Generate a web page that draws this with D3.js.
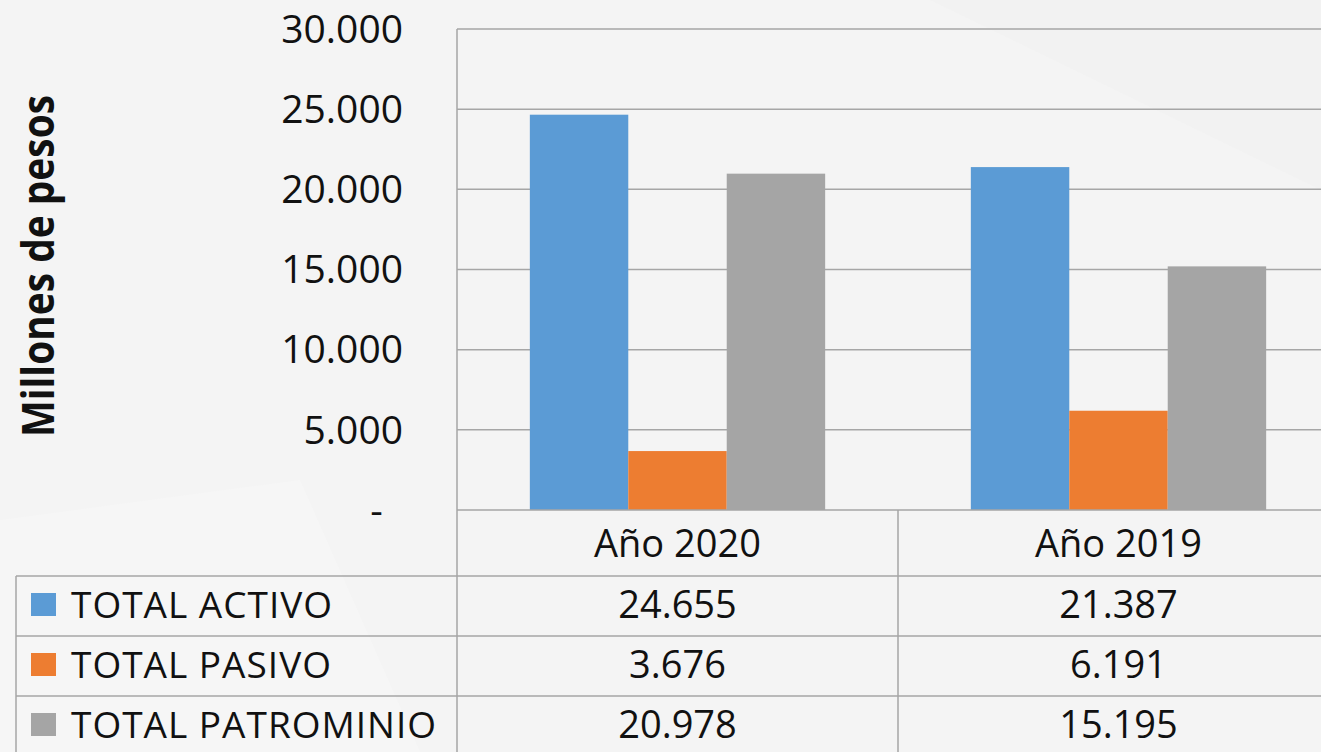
<!DOCTYPE html>
<html><head><meta charset="utf-8">
<script src="https://cdn.jsdelivr.net/npm/d3@7"></script>
<style>
html,body{margin:0;padding:0;background:#f4f4f4;}
svg{display:block;}
text{font-family:"Open Sans",sans-serif;fill:#111;}
</style></head>
<body>
<svg id="c" width="1321" height="752"></svg>
<script>
const categories = ["Año 2020", "Año 2019"];
const seriesNames = ["TOTAL ACTIVO", "TOTAL PASIVO", "TOTAL PATROMINIO"];
const activo = [24655, 21387];
const pasivo = [3676, 6191];
const patrimonio = [20978, 15195];
const tableLabels = [["24.655","21.387"],["3.676","6.191"],["20.978","15.195"]];
const yTicks = [0, 5000, 10000, 15000, 20000, 25000, 30000];
const colors = ["#5b9bd5", "#ed7d31", "#a5a5a5"];
const yTitle = "Millones de pesos";

const values = [activo, pasivo, patrimonio];
const svg = d3.select("#c");
const W = 1321, H = 752;
svg.append("rect").attr("width", W).attr("height", H).attr("fill", "#f4f4f4");
// subtle background shapes
svg.append("path").attr("d","M0,520 L300,480 L420,752 L0,752 Z").attr("fill","#f6f6f6");
svg.append("path").attr("d","M930,0 L1321,0 L1321,190 Z").attr("fill","#f2f2f2");

const plotL = 457, plotT = 29, plotB = 510, groupW = 441;
const gridCol = "#a6a6a6";

const y = d3.scaleLinear().domain([0, 30000]).range([plotB, plotT]);
const x = d3.scaleBand().domain(categories).range([plotL, plotL + groupW * categories.length]).padding(0);
const xs = d3.scaleBand().domain(seriesNames).range([0, x.bandwidth()]).paddingInner(0).paddingOuter(0.74);

// gridlines
svg.append("g").selectAll("line").data(yTicks.filter(d => d > 0)).join("line")
  .attr("x1", plotL).attr("x2", W).attr("y1", d => y(d)).attr("y2", d => y(d))
  .attr("stroke", gridCol).attr("stroke-width", 1.5);

// bars
const gGroups = svg.append("g").selectAll("g").data(categories).join("g")
  .attr("transform", c => `translate(${x(c)},0)`);
gGroups.selectAll("rect").data((c, ci) => seriesNames.map((s, si) => ({s, si, v: values[si][ci]}))).join("rect")
  .attr("x", d => xs(d.s)).attr("width", xs.bandwidth())
  .attr("y", d => y(d.v)).attr("height", d => y(0) - y(d.v))
  .attr("fill", d => colors[d.si]);

// y axis
const yAxis = d3.axisLeft(y).tickValues(yTicks).tickSize(0).tickPadding(54)
  .tickFormat(d => d === 0 ? "-  " : d3.format(",")(d).replace(/,/g, "."));
const ga = svg.append("g").attr("transform", `translate(${plotL},0)`).call(yAxis);
ga.select(".domain").remove();
ga.selectAll("text").attr("font-family", "Open Sans").attr("font-size", 39).attr("fill", "#111")
  .style("white-space", "pre").attr("dy", "0.34em");

// y title
svg.append("text").attr("transform", "translate(54,266) rotate(-90)")
  .attr("text-anchor", "middle").attr("font-weight", 700).attr("font-size", 44)
  .attr("textLength", 342).attr("lengthAdjust", "spacingAndGlyphs")
  .text(yTitle);

// table lines
const rowY = [plotB, 576, 636, 696, 756];
const lines = svg.append("g").attr("stroke", gridCol).attr("stroke-width", 1.5);
lines.append("line").attr("x1", plotL).attr("x2", plotL).attr("y1", plotT).attr("y2", H);
lines.append("line").attr("x1", plotL).attr("x2", W).attr("y1", plotB).attr("y2", plotB);
categories.forEach((c, i) => {
  const xr = x(c) + x.bandwidth();
  lines.append("line").attr("x1", xr).attr("x2", xr).attr("y1", plotB).attr("y2", H);
});
lines.append("line").attr("x1", 16).attr("x2", 16).attr("y1", rowY[1]).attr("y2", H);
rowY.slice(1).forEach(ry => {
  lines.append("line").attr("x1", 16).attr("x2", W).attr("y1", ry).attr("y2", ry);
});

// header labels
svg.append("g").selectAll("text").data(categories).join("text")
  .attr("x", c => x(c) + x.bandwidth() / 2).attr("y", 557)
  .attr("text-anchor", "middle").attr("font-size", 38).text(c => c);

// rows
seriesNames.forEach((s, si) => {
  const base = rowY[si + 1] + 42;
  svg.append("rect").attr("x", 31).attr("y", rowY[si + 1] + 17).attr("width", 25).attr("height", 23)
    .attr("fill", colors[si]);
  svg.append("text").attr("x", 71).attr("y", base).attr("font-size", 37)
    .attr("letter-spacing", 1).text(s);
  categories.forEach((c, ci) => {
    svg.append("text").attr("x", x(c) + x.bandwidth() / 2).attr("y", base)
      .attr("text-anchor", "middle").attr("font-size", 38).text(tableLabels[si][ci]);
  });
});
</script>
</body></html>
